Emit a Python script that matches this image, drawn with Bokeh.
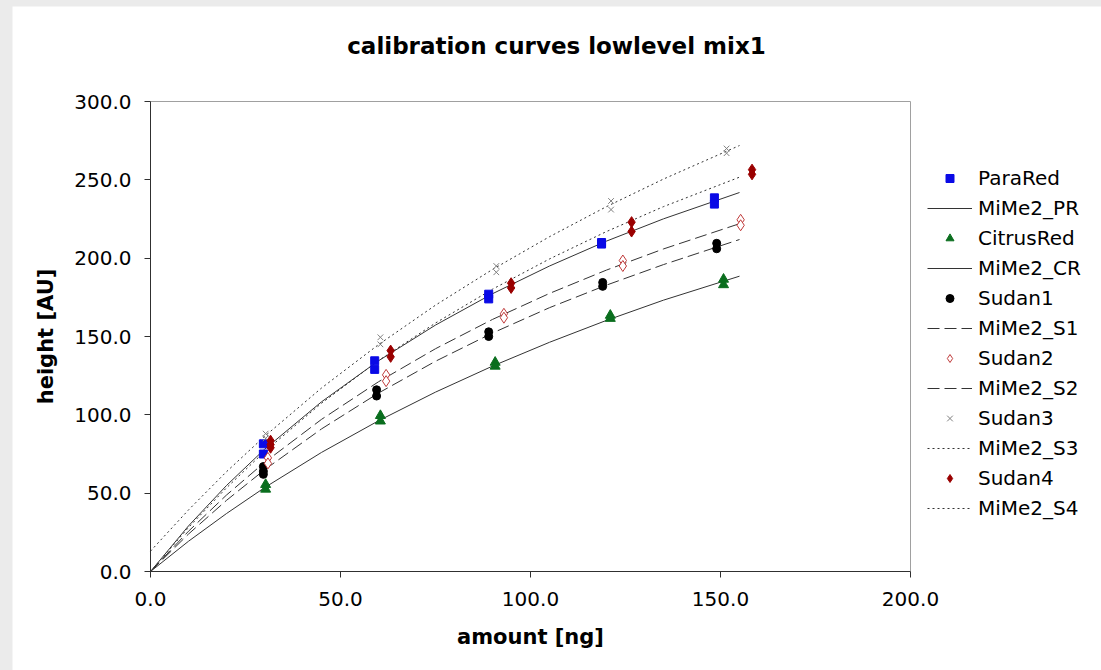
import math
from bokeh.plotting import figure
from bokeh.models import FixedTicker, NumeralTickFormatter, Legend, LegendItem, Label
from bokeh.layouts import column
from bokeh.embed import file_html
from bokeh.resources import INLINE

# ---------------- data ----------------
x_ticks = [0, 50, 100, 150, 200]
y_ticks = [0, 50, 100, 150, 200, 250, 300]

parared_x = [29.7, 29.7, 59.0, 59.0, 89.0, 89.0, 118.7, 118.7, 148.4, 148.4]
parared_y = [81.5, 75.0, 134.5, 129.0, 177.0, 174.0, 210.0, 209.0, 238.5, 234.5]

citrus_x = [30.3, 30.3, 60.5, 60.5, 90.7, 90.7, 121.0, 121.0, 150.8, 150.8]
citrus_y = [55.5, 52.5, 99.5, 96.0, 133.5, 131.0, 163.5, 161.5, 186.5, 183.0]

sudan1_x = [29.7, 29.7, 29.7, 59.5, 59.5, 89.0, 89.0, 119.0, 119.0, 149.0, 149.0]
sudan1_y = [67.0, 64.0, 62.0, 116.0, 112.0, 153.0, 150.0, 184.5, 182.0, 209.5, 206.0]

sudan2_x = [30.9, 30.9, 62.0, 62.0, 93.0, 93.0, 124.3, 124.3, 155.3, 155.3]
sudan2_y = [72.5, 69.0, 125.5, 121.5, 164.5, 162.0, 198.5, 195.0, 224.5, 221.0]

sudan3_x = [30.3, 30.3, 60.5, 60.5, 91.0, 91.0, 121.2, 121.2, 151.6, 151.6]
sudan3_y = [88.0, 85.0, 149.5, 145.0, 195.0, 191.0, 236.5, 231.0, 270.0, 267.0]

sudan4_x = [31.6, 31.6, 31.6, 63.2, 63.2, 94.9, 94.9, 126.6, 126.6, 158.3, 158.3]
sudan4_y = [83.5, 81.0, 79.0, 141.0, 137.0, 184.0, 181.0, 223.0, 217.0, 256.5, 253.5]

fit_x = [0, 10, 20, 30, 45, 60, 75, 90, 105, 120, 135, 155]
mime2_pr = [0.0, 29.1, 54.9, 78.0, 108.3, 134.5, 157.3, 177.3, 195.0, 210.9, 225.1, 241.9]
mime2_cr = [0.0, 19.3, 37.0, 53.5, 76.0, 96.2, 114.5, 131.1, 146.3, 160.3, 173.2, 188.5]
mime2_s1 = [0.0, 23.9, 45.4, 64.9, 91.0, 113.9, 134.2, 152.2, 168.4, 182.8, 195.9, 211.9]
mime2_s2 = [0.0, 25.7, 48.8, 69.6, 97.1, 121.1, 142.2, 160.9, 177.5, 192.4, 205.9, 222.0]
mime2_s3 = [13.0, 39.3, 63.7, 86.2, 117.1, 144.8, 170.0, 192.8, 213.7, 232.9, 250.5, 271.9]
mime2_s4 = [0.0, 28.1, 53.4, 76.5, 107.4, 134.6, 158.6, 180.2, 199.5, 217.0, 232.9, 251.7]

# ---------------- layout geometry ----------------
FONT = "DejaVu Sans"
FIG_W, FIG_H = 1089, 664
ORIGIN_X, ORIGIN_Y = 138, 99      # pixel position of (0,0) from figure's left / bottom
PLOT_W, PLOT_H = 760, 470         # pixel size of the 0..200 x 0..300 plot area
sx = PLOT_W / x_ticks[-1]
sy = PLOT_H / y_ticks[-1]
x_range = (-ORIGIN_X / sx, (FIG_W - ORIGIN_X) / sx)
y_range = (-ORIGIN_Y / sy, (FIG_H - ORIGIN_Y) / sy)

p = figure(width=FIG_W, height=FIG_H, x_range=x_range, y_range=y_range,
           output_backend="svg", toolbar_location=None,
           min_border=0, min_border_left=0, min_border_right=0,
           min_border_top=0, min_border_bottom=0,
           background_fill_color="white", border_fill_color="white")
p.margin = (6, 0, 0, 12)
p.grid.visible = False
p.outline_line_color = None

for ax in (p.xaxis[0], p.yaxis[0]):
    ax.fixed_location = 0
    ax.formatter = NumeralTickFormatter(format="0.0")
    ax.axis_line_color = "#303030"
    ax.major_tick_line_color = "#303030"
    ax.major_tick_out = 6
    ax.major_tick_in = 0
    ax.minor_tick_out = 0
    ax.minor_tick_in = 0
    ax.major_label_text_font = FONT
    ax.major_label_text_font_size = "20px"
    ax.major_label_text_color = "black"

p.xaxis.ticker = FixedTicker(ticks=x_ticks)
p.yaxis.ticker = FixedTicker(ticks=y_ticks)
p.xaxis.bounds = (x_ticks[0], x_ticks[-1])
p.yaxis.bounds = (y_ticks[0], y_ticks[-1])
p.xaxis.major_label_standoff = 14
p.yaxis.major_label_standoff = 13

# plot-area border (top and right edges)
p.segment(x0=[x_ticks[0], x_ticks[-1]], y0=[y_ticks[-1], y_ticks[0]],
          x1=[x_ticks[-1], x_ticks[-1]], y1=[y_ticks[-1], y_ticks[-1]],
          line_color="#a0a0a0", line_width=1)

LC = "#333333"
l_pr = p.line(fit_x, mime2_pr, line_color=LC, line_width=1)
l_cr = p.line(fit_x, mime2_cr, line_color=LC, line_width=1)
l_s1 = p.line(fit_x, mime2_s1, line_color=LC, line_width=1, line_dash="12 5")
l_s2 = p.line(fit_x, mime2_s2, line_color=LC, line_width=1, line_dash="12 5")
l_s3 = p.line(fit_x, mime2_s3, line_color=LC, line_width=1, line_dash="2 3")
l_s4 = p.line(fit_x, mime2_s4, line_color=LC, line_width=1, line_dash="2 3")

m_pr = p.scatter(parared_x, parared_y, marker="square", size=8,
                 fill_color="#0a0ae6", line_color="#0a0ae6")
m_cr = p.scatter(citrus_x, citrus_y, marker="triangle", size=10,
                 fill_color="#0a6e1e", line_color="#0a6e1e")
m_s1 = p.scatter(sudan1_x, sudan1_y, marker="circle", size=8,
                 fill_color="black", line_color="black")
m_s2 = p.scatter(sudan2_x, sudan2_y, marker="diamond", size=11,
                 fill_color="white", line_color="#c03a3a", line_width=1)
m_s3 = p.scatter(sudan3_x, sudan3_y, marker="x", size=8,
                 line_color="#808080", line_width=1)
m_s4 = p.scatter(sudan4_x, sudan4_y, marker="diamond", size=11,
                 fill_color="#9a0000", line_color="#9a0000")

legend = Legend(items=[
    LegendItem(label="ParaRed", renderers=[m_pr]),
    LegendItem(label="MiMe2_PR", renderers=[l_pr]),
    LegendItem(label="CitrusRed", renderers=[m_cr]),
    LegendItem(label="MiMe2_CR", renderers=[l_cr]),
    LegendItem(label="Sudan1", renderers=[m_s1]),
    LegendItem(label="MiMe2_S1", renderers=[l_s1]),
    LegendItem(label="Sudan2", renderers=[m_s2]),
    LegendItem(label="MiMe2_S2", renderers=[l_s2]),
    LegendItem(label="Sudan3", renderers=[m_s3]),
    LegendItem(label="MiMe2_S3", renderers=[l_s3]),
    LegendItem(label="Sudan4", renderers=[m_s4]),
    LegendItem(label="MiMe2_S4", renderers=[l_s4]),
], location=(915, 150))
legend.margin = 0
legend.padding = 0
legend.spacing = 6
legend.glyph_width = 45
legend.glyph_height = 20
legend.label_height = 20
legend.label_standoff = 6
legend.label_text_font = FONT
legend.label_text_font_size = "20px"
legend.label_text_color = "black"
legend.border_line_alpha = 0
legend.background_fill_alpha = 0
p.add_layout(legend, "center")

title = Label(x=544, y=625, x_units="screen", y_units="screen",
              text="calibration curves lowlevel mix1", text_align="center",
              text_baseline="middle", text_font=FONT, text_font_style="bold",
              text_font_size="23px", text_color="black")
xlabel = Label(x=518, y=34, x_units="screen", y_units="screen",
               text="amount [ng]", text_align="center",
               text_baseline="middle", text_font=FONT, text_font_style="bold",
               text_font_size="21px", text_color="black")
ylabel = Label(x=33, y=334, x_units="screen", y_units="screen",
               text="height [AU]", text_align="center", angle=math.pi / 2,
               text_baseline="middle", text_font=FONT, text_font_style="bold",
               text_font_size="21px", text_color="black")
for lab in (title, xlabel, ylabel):
    p.add_layout(lab)

page = column(p, styles={"background-color": "#ebebeb"})

with open("out.html", "w") as f:
    f.write(file_html(page, INLINE))
